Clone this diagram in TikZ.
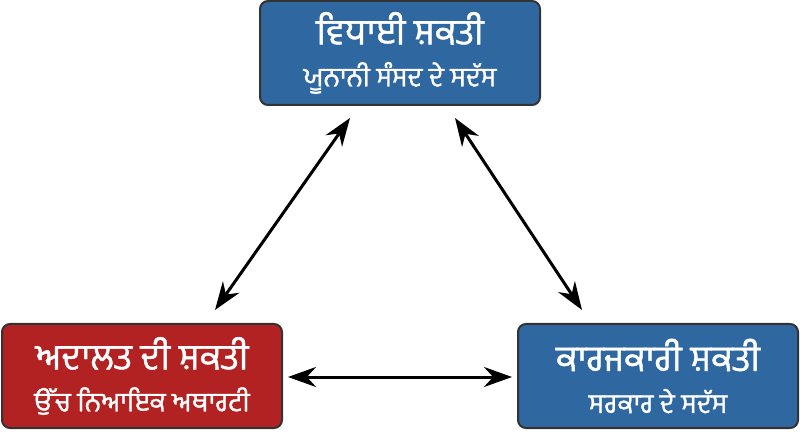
\documentclass[tikz,border=0pt]{standalone}
\usepackage{fontspec}
\newfontfamily\gurfont[Script=Gurmukhi,FakeBold=1.2]{Hind Jalandhar}
\usetikzlibrary{arrows.meta}
\definecolor{powerblue}{HTML}{2F67A0}
\definecolor{powerred}{HTML}{B22222}
\newcommand{\subline}[1]{\fontsize{27}{34}\selectfont #1}
\tikzset{
  powerbox/.style={draw=black!80, line width=2pt, rounded corners=8pt, text=white,
    minimum width=280pt, minimum height=104pt, align=center,
    font=\gurfont\fontsize{36}{42}\selectfont},
  link/.style={{Stealth[length=28pt,width=20pt]}-{Stealth[length=28pt,width=20pt]}, line width=3pt}
}
\begin{document}
\begin{tikzpicture}[x=1pt,y=-1pt]
        \useasboundingbox (0,0) rectangle (800,435);
        % Nodes
        \node (L) at (400,53) [powerbox, fill=powerblue] {ਵਿਧਾਈ ਸ਼ਕਤੀ\\\subline{ਯੂਨਾਨੀ ਸੰਸਦ ਦੇ ਸਦੱਸ}};
        \node (J) at (142,376) [powerbox, fill=powerred] {ਅਦਾਲਤ ਦੀ ਸ਼ਕਤੀ\\\subline{ਉੱਚ ਨਿਆਇਕ ਅਥਾਰਟੀ}};
        \node (E) at (658,376) [powerbox, fill=powerblue] {ਕਾਰਜਕਾਰੀ ਸ਼ਕਤੀ\\\subline{ਸਰਕਾਰ ਦੇ ਸਦੱਸ}};
        \coordinate (l1) at (350,118);
        \coordinate (j1) at (215,310);
        \coordinate (l2) at (455,118);
        \coordinate (e1) at (582,310);
        \coordinate (j2) at (288,377);
        \coordinate (e2) at (512,377);

        % Edges
        \draw[link] (l1) -- (j1);
        \draw[link] (l2) -- (e1);
        \draw[link] (j2) -- (e2);
    \end{tikzpicture}
\end{document}
